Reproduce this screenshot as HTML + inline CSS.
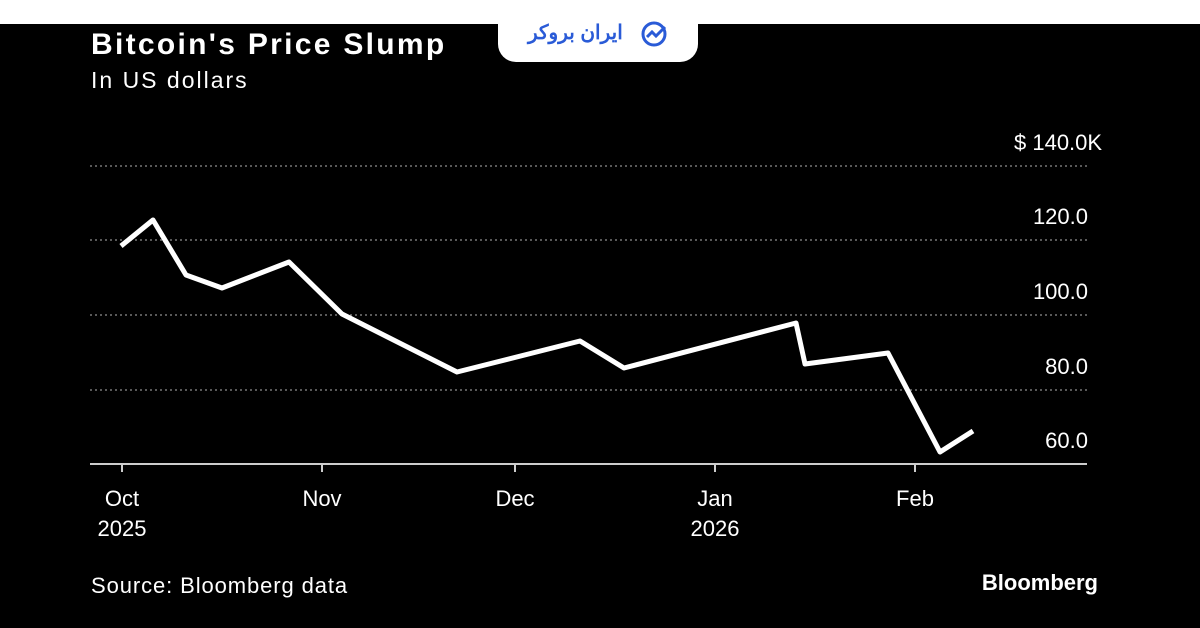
<!DOCTYPE html>
<html><head><meta charset="utf-8"><style>
body{margin:0;width:1200px;height:628px;background:#000;overflow:hidden;font-family:"Liberation Sans",sans-serif;position:relative}
.t{position:absolute;color:#fff}
</style></head><body>
<div style="position:absolute;left:0;top:0;width:1200px;height:24px;background:#fff"></div>
<div style="position:absolute;left:498px;top:0;width:200px;height:62px;background:#fff;border-radius:0 0 18px 18px"></div>
<div class="t" style="left:528px;top:20px;font-size:20px;font-weight:bold;color:#2a5bd7;font-family:'Liberation Sans','Noto Sans CJK SC',sans-serif;direction:rtl">ایران بروکر</div>
<svg style="position:absolute;left:640px;top:20px" width="32" height="28" viewBox="0 0 32 28"><circle cx="14" cy="14" r="11" fill="none" stroke="#2a5bd7" stroke-width="3"/><path d="M7 17l5-5 4 4 9-9" fill="none" stroke="#2a5bd7" stroke-width="3"/></svg>
<div class="t" style="left:91px;top:28px;font-size:30px;font-weight:bold;letter-spacing:2.3px">Bitcoin's Price Slump</div>
<div class="t" style="left:91px;top:67px;font-size:23px;letter-spacing:2px">In US dollars</div>
<svg style="position:absolute;left:0;top:0" width="1200" height="628">
<g stroke="#777" stroke-width="1.5" stroke-dasharray="2,3">
<line x1="90" y1="166" x2="1087" y2="166"/><line x1="90" y1="240" x2="1087" y2="240"/><line x1="90" y1="315" x2="1087" y2="315"/><line x1="90" y1="390" x2="1087" y2="390"/></g>
<line x1="90" y1="464" x2="1087" y2="464" stroke="#ccc" stroke-width="2"/>
<g stroke="#ccc" stroke-width="2"><line x1="122" y1="464" x2="122" y2="472"/><line x1="322" y1="464" x2="322" y2="472"/><line x1="515" y1="464" x2="515" y2="472"/><line x1="715" y1="464" x2="715" y2="472"/><line x1="915" y1="464" x2="915" y2="472"/></g>
<polyline fill="none" stroke="#fff" stroke-width="5" stroke-linejoin="round" points="121,246 153,220 186,275 222,288 289,262 342,314 457,372 580,341 624,368 796,323 805,364 888,353 940,452 973,431"/>
<g fill="#fff" font-size="22" font-family="Liberation Sans,sans-serif">
<text x="1014" y="150">$ 140.0K</text>
<text x="1088" y="224" text-anchor="end">120.0</text>
<text x="1088" y="299" text-anchor="end">100.0</text>
<text x="1088" y="374" text-anchor="end">80.0</text>
<text x="1088" y="448" text-anchor="end">60.0</text>
<text x="122" y="506" text-anchor="middle">Oct</text><text x="122" y="536" text-anchor="middle">2025</text>
<text x="322" y="506" text-anchor="middle">Nov</text>
<text x="515" y="506" text-anchor="middle">Dec</text>
<text x="715" y="506" text-anchor="middle">Jan</text><text x="715" y="536" text-anchor="middle">2026</text>
<text x="915" y="506" text-anchor="middle">Feb</text>
<text x="91" y="593" letter-spacing="0.9">Source: Bloomberg data</text>
<text x="1098" y="590" text-anchor="end" font-weight="bold" font-size="22">Bloomberg</text>
</g></svg>
</body></html>
